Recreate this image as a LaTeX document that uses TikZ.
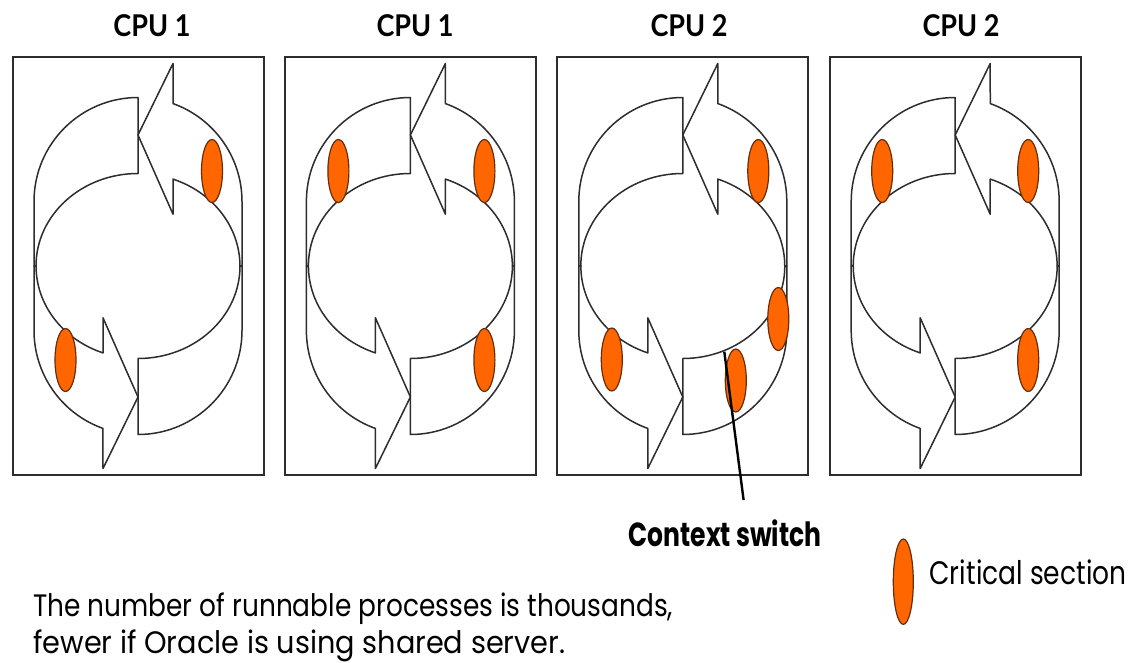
\documentclass[tikz,border=0pt]{standalone}
\usepackage{fontspec}
\usepackage{graphicx}
\setmainfont{Poppins}
\newfontfamily\headfont{Lato}
\usetikzlibrary{calc}

\definecolor{critorange}{RGB}{255,102,0}
\definecolor{critedge}{RGB}{105,45,10}
\definecolor{inkgray}{RGB}{45,45,45}

\tikzset{
  panel/.style={draw=inkgray, line width=2pt, minimum width=251pt, minimum height=417.5pt, inner sep=0pt},
  band/.style={fill=white, draw=inkgray, line width=1.5pt, line join=round},
  crit/.style={fill=critorange, draw=critedge, line width=1.2pt},
  cputitle/.style={font=\headfont\bfseries\fontsize{30}{30}\selectfont, anchor=base, inner sep=0pt},
  note/.style={font=\fontsize{31}{31}\selectfont, anchor=base west, inner sep=0pt},
  pics/cycle/.style={code={
    \foreach \r in {0,180}{
      \begin{scope}[rotate=\r]
        % flat end of one band
        \filldraw[band] (-104,0) -- (-104,-64.5) arc[start angle=180, end angle=270, radius=104]
          -- (0,-92.5) arc[start angle=270, end angle=180, x radius=102, y radius=92.5] -- cycle;
        % the other band with its head
        \filldraw[band] (104,0) -- (104,-64.5) arc[start angle=0, end angle=-70.3, radius=104]
          -- (35,-202.5) -- (0,-131) -- (35,-51.8) -- (35,-86.9)
          arc[start angle=-69.9, end angle=0, x radius=102, y radius=92.5] -- cycle;
      \end{scope}
    }
  }}
}

\begin{document}
\begin{tikzpicture}[x=1pt, y=-1pt]
  \useasboundingbox (0,0) rectangle (1144,662);

  \foreach \i/\bx/\tx/\t in {1/138/152/CPU 1, 2/410.4/415/CPU 1, 3/682.8/689/CPU 2, 4/955.2/961/CPU 2}{
    \node[panel] (box\i) at (\bx,266) {};
    \node[cputitle] (title\i) at (\tx,36.7) {\resizebox{77pt}{\height}{\t}};
    \pic at (box\i.center) {cycle};
  }

  % critical sections
  \foreach \i/\dx/\dy in {1/74/-95, 1/-72.5/94,
                          2/-72/-95, 2/74/-95, 2/74/94,
                          3/75.5/-95, 3/-71/93.5, 3/95.5/53, 3/53/114.5,
                          4/-73/-95, 4/73/-95, 4/73/94}
    \draw[crit] ($(box\i.center)+(\dx,\dy)$) ellipse[x radius=10.5, y radius=31.5];

  \coordinate (cs-top) at (724.3,351.7);
  \coordinate (cs-foot) at (743.6,500);
  \draw[line width=2.4pt] (cs-top) -- (cs-foot);
  \node[font=\bfseries\fontsize{33.4}{34}\selectfont, anchor=base, inner sep=0pt] (cswitch) at (725,546.7)
    {\resizebox{193pt}{\height}{Context switch}};

  \draw[crit] (903.3,581.7) ellipse[x radius=10, y radius=42.7];
  \node[font=\fontsize{32.5}{33}\selectfont, anchor=base west, inner sep=0pt] (legend) at (929.3,584.3)
    {\resizebox{197pt}{\height}{Critical section}};

  \node[note] (line1) at (33,616.7) {\resizebox{640pt}{\height}{The number of runnable processes is thousands,}};
  \node[note] (line2) at (33,653.3) {\resizebox{532pt}{\height}{fewer if Oracle is using shared server.}};
\end{tikzpicture}
\end{document}
